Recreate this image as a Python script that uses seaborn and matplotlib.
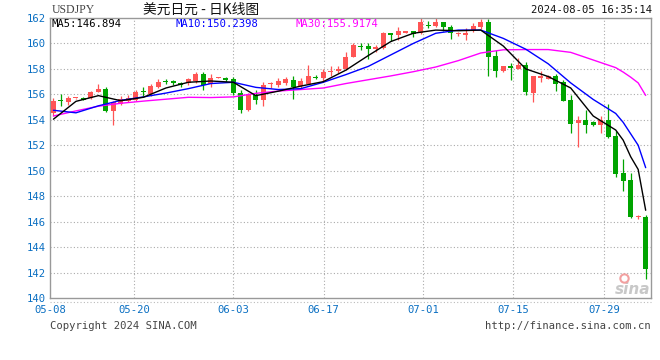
import numpy as np
import pandas as pd
import matplotlib
matplotlib.use("Agg")
import matplotlib.pyplot as plt
import seaborn as sns

# ---------------- data ----------------
opens = [154.5, 155.52, 155.42, 155.68, 155.74, 155.74, 156.18, 156.44, 154.72, 155.24,
         155.45, 155.55, 156.26, 156.05, 156.58, 157.02, 157.08, 156.9, 156.9, 157.05,
         157.63, 156.85, 157.28, 157.3, 157.2, 156.1, 154.74, 155.97, 155.53, 156.8,
         156.7, 156.92, 157.16, 156.63, 156.84, 157.36, 157.26, 157.76, 157.8, 158.0,
         158.94, 159.75, 159.8, 159.54, 159.62, 160.86, 160.68, 160.86, 160.94, 160.8,
         161.42, 161.39, 161.65, 161.28, 160.76, 160.65, 160.96, 161.28, 161.67, 158.99,
         157.81, 158.15, 158.02, 158.34, 156.1, 157.29, 157.24, 157.42, 156.94, 155.58,
         153.75, 153.95, 153.8, 153.59, 154.0, 152.69, 149.86, 149.28, 146.35, 146.35]
closes = [155.5, 155.47, 155.74, 155.72, 155.58, 156.2, 156.44, 154.72, 155.37, 155.64,
          155.7, 156.21, 156.22, 156.68, 157.0, 156.98, 156.87, 156.76, 157.18, 157.63,
          156.76, 157.3, 157.32, 157.1, 156.1, 154.74, 156.05, 155.53, 156.76, 156.84,
          157.05, 157.2, 156.55, 157.02, 157.42, 157.32, 157.73, 157.87, 158.0, 158.95,
          159.86, 159.72, 159.54, 159.75, 160.86, 160.68, 160.94, 160.9, 160.73, 161.72,
          161.38, 161.65, 161.28, 160.8, 160.8, 160.84, 161.41, 161.67, 158.91, 157.81,
          158.2, 158.11, 158.34, 156.16, 157.42, 157.47, 157.42, 156.84, 155.5, 153.69,
          153.95, 153.61, 153.59, 154.0, 152.63, 149.76, 149.2, 146.35, 146.4, 142.3]
highs = [155.7, 156.0, 155.9, 155.75, 155.78, 156.3, 156.84, 156.6, 155.48, 155.9,
         155.95, 156.37, 156.6, 156.8, 157.24, 157.2, 157.1, 157.0, 157.28, 157.76,
         157.73, 157.6, 157.35, 157.35, 157.35, 156.37, 156.1, 156.37, 157.0, 157.0,
         157.3, 157.4, 157.42, 157.3, 158.34, 157.5, 158.0, 158.26, 158.2, 159.3,
         160.0, 160.0, 160.0, 159.9, 160.93, 160.86, 161.33, 160.95, 160.94, 161.98,
         161.78, 162.0, 161.72, 161.47, 160.9, 161.2, 161.6, 161.9, 161.94, 159.5,
         158.26, 158.47, 158.87, 158.52, 157.42, 157.87, 157.5, 157.63, 157.16, 155.98,
         154.3, 154.74, 153.9, 154.32, 155.27, 153.1, 150.9, 149.8, 146.5, 146.53]
lows = [154.3, 155.1, 155.2, 155.66, 155.55, 155.6, 156.18, 154.6, 153.56, 155.2,
        155.4, 155.45, 155.85, 155.85, 156.5, 156.85, 156.7, 156.6, 156.76, 156.87,
        156.31, 156.6, 157.25, 156.95, 155.95, 154.54, 154.7, 155.27, 155.05, 156.5,
        156.6, 156.75, 155.66, 156.4, 156.8, 157.2, 157.0, 157.42, 157.7, 157.95,
        158.9, 159.5, 158.8, 159.3, 159.55, 160.2, 160.3, 160.82, 160.5, 160.73,
        161.25, 161.33, 160.94, 160.36, 160.6, 160.25, 160.9, 161.15, 157.42, 157.37,
        157.75, 157.1, 158.0, 155.98, 155.4, 156.95, 157.2, 156.24, 155.5, 153.0,
        151.83, 153.0, 153.5, 152.96, 152.57, 149.5, 148.42, 146.27, 146.2, 141.46]

ma_idx = [0, 3, 6, 9, 12, 15, 18, 21, 24, 27, 30, 33, 36, 39, 42, 45, 48, 51, 54,
          57, 60, 63, 66, 69, 72, 75, 76, 77, 78, 79]
ma5 = [154.05, 155.45, 155.9, 155.5, 155.77, 156.5, 156.95, 157.05, 156.95, 155.9,
       156.25, 156.65, 157.0, 157.9, 159.05, 160.15, 160.8, 161.05, 161.0, 161.05,
       159.8, 158.0, 157.4, 156.5, 154.3, 153.2, 152.4, 151.1, 150.1, 146.894]
ma10 = [154.75, 154.55, 155.1, 155.53, 155.8, 156.1, 156.45, 156.85, 156.95, 156.55,
        156.38, 156.45, 156.95, 157.55, 158.2, 159.1, 160.0, 160.8, 161.05, 161.05,
        160.4, 159.55, 158.4, 156.9, 155.6, 154.5, 153.8, 152.9, 152.0, 150.2398]
ma30 = [154.3, 154.7, 155.07, 155.3, 155.47, 155.62, 155.77, 155.75, 155.8, 156.08,
        156.26, 156.38, 156.5, 156.85, 157.15, 157.45, 157.78, 158.15, 158.65, 159.25,
        159.5, 159.52, 159.52, 159.3, 158.7, 158.1, 157.75, 157.35, 156.9, 155.9174]

x_tick_labels = ["05-08", "05-20", "06-03", "06-17", "07-01", "07-15", "07-29"]
y_tick_values = [140, 142, 144, 146, 148, 150, 152, 154, 156, 158, 160, 162]

# ---------------- style ----------------
sns.set_style("white")
plt.rcParams["font.family"] = ["DejaVu Sans Mono", "Noto Sans CJK SC"]

W, H = 660, 360
fig = plt.figure(figsize=(W / 100, H / 100), dpi=100)
fig.patch.set_facecolor("white")

# plot frame in pixel coordinates: left 50, right 651, top 18, bottom 298
L, R, T, B = 50, 651, 18, 298
ax = fig.add_axes([L / W, 1 - B / H, (R - L) / W, (B - T) / H])
ax.set_facecolor("white")

n = len(opens)
idx = np.arange(n)
o = np.array(opens); c = np.array(closes)
hi = np.array(highs); lo = np.array(lows)
up = c >= o
RED = "#ff5555"
GREEN = "#00a400"
colors = np.where(up, RED, GREEN)

# x range so that candle 0 sits at px 52.7 and candle spacing is 7.506 px
step = 7.506
x0 = (L - 52.7) / step
x1 = (R - 52.7) / step
ax.set_xlim(x0, x1)
ax.set_ylim(140, 162)

# grid
grid_pos = [10.74, 23.95, 36.05, 49.3, 61.36, 73.49]
for g in y_tick_values[1:-1]:
    ax.axhline(g, color="#aaaaaa", lw=0.8, ls=(0, (1, 2)), zorder=0)
for gx in grid_pos:
    ax.axvline(gx, color="#aaaaaa", lw=0.8, ls=(0, (1, 2)), zorder=0)

# candles
ax.vlines(idx, lo, hi, colors=colors, lw=0.9, zorder=2)
body_h = np.maximum(np.abs(c - o), 0.08)
ax.bar(idx, body_h, bottom=np.minimum(o, c), width=0.66, color=colors,
       linewidth=0, zorder=3)

# moving averages via seaborn
ma_df = pd.DataFrame({"idx": ma_idx, "MA5": ma5, "MA10": ma10, "MA30": ma30})
sns.lineplot(data=ma_df, x="idx", y="MA30", color="#ff00ff", lw=1.0, ax=ax, zorder=4)
sns.lineplot(data=ma_df, x="idx", y="MA10", color="#0000ff", lw=1.0, ax=ax, zorder=5)
sns.lineplot(data=ma_df, x="idx", y="MA5", color="#000000", lw=1.0, ax=ax, zorder=6)

# axes cosmetics
for s in ax.spines.values():
    s.set_color("#999999")
    s.set_linewidth(1.0)
ax.set_xlabel("")
ax.set_ylabel("")
ax.set_yticks(y_tick_values)
ax.set_yticklabels([str(v) for v in y_tick_values])
ax.tick_params(axis="y", length=0, pad=3, labelsize=7.6, labelcolor="#0a6fc2")
tick_pos = [x0 - 0.1] + grid_pos
ax.set_xticks(tick_pos)
ax.set_xticklabels(x_tick_labels)
ax.tick_params(axis="x", length=0, pad=5, labelsize=7.6, labelcolor="#0a6fc2")

# dotted separator under the plot
fig.add_artist(plt.Line2D([L / W, R / W], [1 - 302 / H, 1 - 302 / H],
                          color="#bbbbbb", lw=0.8, ls=(0, (1, 2))))

# header texts
fig.text(52 / W, 1 - 10 / H, "USDJPY", fontsize=8.5, color="#444444",
         family=["Liberation Serif"], va="center", ha="left")
fig.text(201 / W, 1 - 10 / H, "美元日元 - 日K线图", fontsize=9.9, color="#111111",
         family=["Noto Sans CJK SC", "DejaVu Sans"], va="center", ha="center")
fig.text(652 / W, 1 - 10 / H, "2024-08-05 16:35:14", fontsize=7.6, color="#111111",
         va="center", ha="right")

# MA legend inside plot
fig.text(52 / W, 1 - 24 / H, "MA5:146.894", fontsize=7.6, color="#000000", va="center")
fig.text(175 / W, 1 - 24 / H, "MA10:150.2398", fontsize=7.6, color="#0000ff", va="center")
fig.text(296 / W, 1 - 24 / H, "MA30:155.9174", fontsize=7.6, color="#ff00ff", va="center")

# footer
fig.text(50 / W, 1 - 326 / H, "Copyright 2024 SINA.COM", fontsize=7.6, color="#444444",
         va="center", ha="left")
fig.text(651 / W, 1 - 326 / H, "http://finance.sina.com.cn", fontsize=7.6, color="#444444",
         va="center", ha="right")

# watermark (logo eye drawn as a marker, wordmark as text)
fig.add_artist(plt.Line2D([624 / W], [1 - 278 / H], marker="o", markersize=6,
                          markerfacecolor="none", markeredgecolor="#f2a0a0",
                          markeredgewidth=1.5, lw=0))
fig.text(633 / W, 1 - 290 / H, "sina", fontsize=11, color="#c8c8c8", style="italic",
         weight="bold", family=["DejaVu Sans"], va="center", ha="center", zorder=1)

fig.savefig("out.png", dpi=100, facecolor="white")
